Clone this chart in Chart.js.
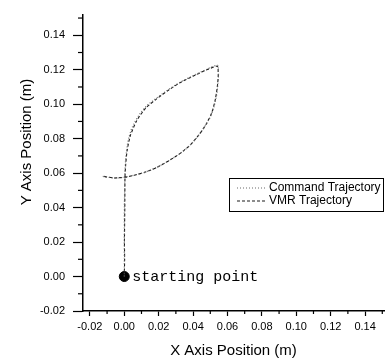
<!DOCTYPE html>
<html>
  <head>
    <meta charset="UTF-8">
    <title>trajectory chart</title>
    <script src="https://cdn.jsdelivr.net/npm/chart.js@4.4.1/dist/chart.umd.min.js"></script>
    <style type="text/css">
      body { margin: 0; background: #fff; }
      #wrap { width: 390px; height: 362px; }
    </style>
  </head>
  <body>
    <div id="wrap">
      <canvas id="myChart" width="390" height="362"></canvas>
    </div>
    <script>
    // values
    var cmdX = [0, 0, 0, 0, 0.0003, 0.0006, 0.0013, 0.003, 0.0068, 0.012, 0.018, 0.025, 0.032, 0.040, 0.047, 0.0543, 0.0547, 0.0548, 0.0542, 0.053, 0.051, 0.048, 0.044, 0.039, 0.033, 0.026, 0.019, 0.012, 0.006, 0.0011, -0.0057, -0.0097, -0.0131];
    var cmdY = [0, 0.010, 0.020, 0.040, 0.0577, 0.065, 0.073, 0.0818, 0.0908, 0.098, 0.103, 0.108, 0.1125, 0.1165, 0.1198, 0.1226, 0.1215, 0.116, 0.109, 0.102, 0.095, 0.089, 0.083, 0.077, 0.0718, 0.0673, 0.0634, 0.0606, 0.0589, 0.0578, 0.0571, 0.0577, 0.0582];
    var vmrX = [0, 0.0002, 0.0001, 0.0003, 0.0004, 0.0008, 0.0016, 0.0034, 0.0072, 0.0124, 0.0183, 0.0252, 0.0321, 0.0399, 0.0468, 0.0540, 0.0545, 0.0546, 0.0539, 0.0527, 0.0507, 0.0477, 0.0437, 0.0387, 0.0327, 0.0257, 0.0187, 0.0118, 0.0058, 0.0008, -0.006, -0.0101, -0.0128];
    var vmrY = [0, 0.0098, 0.0201, 0.0399, 0.0575, 0.0648, 0.0727, 0.0814, 0.0904, 0.0977, 0.1027, 0.1078, 0.1123, 0.1162, 0.1195, 0.1222, 0.1211, 0.1156, 0.1086, 0.1016, 0.0946, 0.0886, 0.0826, 0.0767, 0.0716, 0.0671, 0.0632, 0.0604, 0.0588, 0.0577, 0.0572, 0.0578, 0.0584];
    var startX = [0];
    var startY = [0];
    var startLabel = "starting point";
    var seriesNames = ["Command Trajectory", "VMR Trajectory"];
    var xTicks = [-0.02, 0.00, 0.02, 0.04, 0.06, 0.08, 0.10, 0.12, 0.14];
    var yTicks = [-0.02, 0.00, 0.02, 0.04, 0.06, 0.08, 0.10, 0.12, 0.14];
    var xMinor = [-0.01, 0.01, 0.03, 0.05, 0.07, 0.09, 0.11, 0.13, 0.15];
    var yMinor = [-0.01, 0.01, 0.03, 0.05, 0.07, 0.09, 0.11, 0.13, 0.15];
    var yTitle = "Y Axis Position (m)";

    function toPoints(xs, ys) {
      var pts = [];
      for (var i = 0; i < xs.length; i++) {
        pts.push({x: xs[i], y: ys[i]});
      }
      return pts;
    }

    var lineStyles = [
      {color: "#6a6a6a", dash: [1, 2], width: 1.2},
      {color: "#1a1a1a", dash: [3, 2], width: 1.1}
    ];

    // minor ticks, legend box, y title and the starting point note
    var extras = {
      id: 'extras',
      afterDraw: function(chart) {
        var ctx = chart.ctx;
        var xs = chart.scales.x, ys = chart.scales.y;
        var area = chart.chartArea;
        ctx.save();
        ctx.strokeStyle = "#000";
        ctx.lineWidth = 1.2;
        xMinor.forEach(function(v) {
          var px = xs.getPixelForValue(v);
          if (px > area.right) return;
          ctx.beginPath();
          ctx.moveTo(px, area.bottom);
          ctx.lineTo(px, area.bottom + 3);
          ctx.stroke();
        });
        yMinor.forEach(function(v) {
          var py = ys.getPixelForValue(v);
          if (py < area.top) return;
          ctx.beginPath();
          ctx.moveTo(area.left, py);
          ctx.lineTo(area.left - 5, py);
          ctx.stroke();
        });

        // legend
        var bx = 229, by = 178, bw = 154, bh = 33;
        ctx.lineWidth = 1;
        ctx.strokeRect(bx + 0.5, by + 0.5, bw, bh);
        ctx.font = "12px Arial, 'Liberation Sans', sans-serif";
        ctx.textBaseline = "middle";
        ctx.fillStyle = "#000";
        for (var i = 0; i < seriesNames.length; i++) {
          var ly = by + 10 + i * 13;
          ctx.strokeStyle = lineStyles[i].color;
          ctx.setLineDash(lineStyles[i].dash);
          ctx.lineWidth = lineStyles[i].width;
          ctx.beginPath();
          ctx.moveTo(bx + 8, ly);
          ctx.lineTo(bx + 36, ly);
          ctx.stroke();
          ctx.setLineDash([]);
          ctx.fillText(seriesNames[i], bx + 40, ly);
        }

        // y axis title, sits a bit above the middle in the original
        ctx.save();
        ctx.translate(27, 142);
        ctx.rotate(-Math.PI / 2);
        ctx.textAlign = "center";
        ctx.font = "15px Arial, 'Liberation Sans', sans-serif";
        ctx.fillText(yTitle, 0, 0);
        ctx.restore();

        // starting point note
        var sx = xs.getPixelForValue(startX[0]);
        var sy = ys.getPixelForValue(startY[0]);
        ctx.font = "15px 'Liberation Mono', 'Courier New', monospace";
        ctx.textBaseline = "middle";
        ctx.fillText(startLabel, sx + 8, sy);
        ctx.restore();
      }
    };

    var ctx = document.getElementById('myChart').getContext('2d');
    var chart = new Chart(ctx, {
      type: 'scatter',
      data: {
        datasets: [{
          label: seriesNames[0],
          data: toPoints(cmdX, cmdY),
          showLine: true,
          borderColor: lineStyles[0].color,
          borderDash: lineStyles[0].dash,
          borderWidth: lineStyles[0].width,
          pointRadius: 0,
          cubicInterpolationMode: 'monotone'
        }, {
          label: seriesNames[1],
          data: toPoints(vmrX, vmrY),
          showLine: true,
          borderColor: lineStyles[1].color,
          borderDash: lineStyles[1].dash,
          borderWidth: lineStyles[1].width,
          pointRadius: 0,
          tension: 0.2
        }, {
          label: startLabel,
          data: toPoints(startX, startY),
          pointRadius: 5,
          backgroundColor: "#000",
          borderColor: "#000"
        }]
      },
      options: {
        responsive: false,
        animation: false,
        layout: {padding: {top: 5, right: 0, left: 0, bottom: 0}},
        plugins: {
          legend: {display: false},
          tooltip: {enabled: false}
        },
        scales: {
          x: {
            type: 'linear',
            min: -0.024,
            max: 0.151,
            afterBuildTicks: function(scale) {
              scale.ticks = xTicks.map(function(v) { return {value: v}; });
            },
            afterFit: function(scale) { scale.height = 51; },
            ticks: {
              color: "#000",
              font: {family: "Arial, 'Liberation Sans', sans-serif", size: 11},
              padding: 4,
              maxRotation: 0,
              callback: function(v) { return Number(v).toFixed(2); }
            },
            grid: {drawOnChartArea: false, color: "#000", tickLength: 5, tickWidth: 1.2},
            border: {color: "#000", width: 1.5},
            title: {
              display: true,
              text: "X Axis Position (m)",
              color: "#000",
              font: {family: "Arial, 'Liberation Sans', sans-serif", size: 15},
              padding: {top: 0, bottom: 2}
            }
          },
          y: {
            type: 'linear',
            min: -0.02,
            max: 0.152,
            afterBuildTicks: function(scale) {
              scale.ticks = yTicks.map(function(v) { return {value: v}; });
            },
            afterFit: function(scale) { scale.width = 83; },
            ticks: {
              color: "#000",
              font: {family: "Arial, 'Liberation Sans', sans-serif", size: 11},
              padding: 8,
              callback: function(v) { return Number(v).toFixed(2); }
            },
            grid: {drawOnChartArea: false, color: "#000", tickLength: 10, tickWidth: 1.2},
            border: {color: "#000", width: 1.5}
          }
        }
      },
      plugins: [extras]
    });
    </script>
  </body>
</html>
